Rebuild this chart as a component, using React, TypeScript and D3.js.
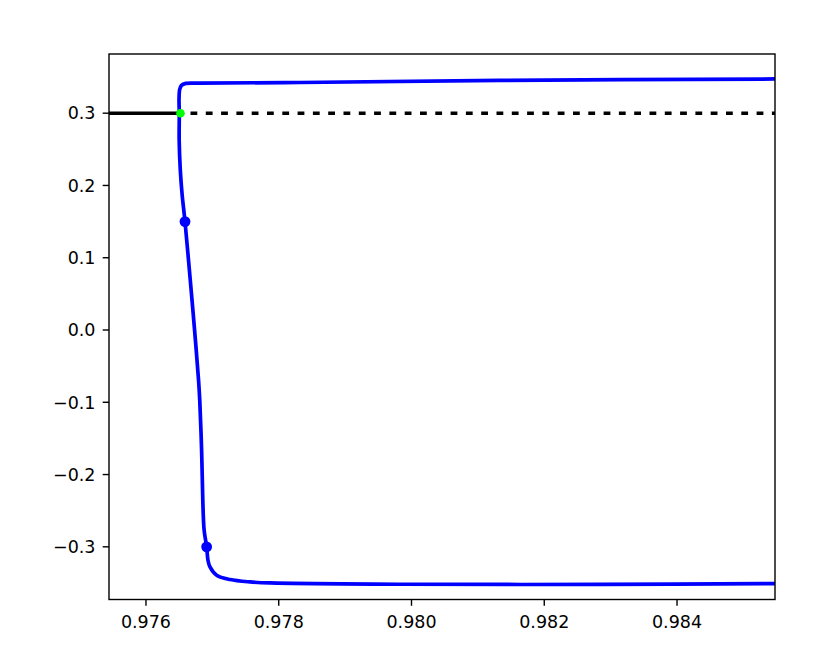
import React from "react";
import * as d3 from "d3";

const curveX = [
  0.98560, 0.98133, 0.97832, 0.97681, 0.97660, 0.976535, 0.976508, 0.976498, 0.976502,
  0.976500, 0.976517, 0.976545, 0.976588, 0.976667, 0.976732, 0.976792, 0.976810,
  0.976838, 0.976856, 0.976876, 0.976914, 0.976934, 0.976964, 0.977065, 0.977266,
  0.977567, 0.977868, 0.979827, 0.98284, 0.98560,
];
const curveY = [
  0.3474, 0.3453, 0.3425, 0.3416, 0.3412, 0.3385, 0.3330, 0.3186, 0.3000,
  0.2632, 0.2216, 0.1870, 0.1500, 0.0693, 0.0000, -0.0693, -0.0970,
  -0.1662, -0.2355, -0.2770, -0.3000, -0.3186, -0.3278, -0.3393, -0.3453,
  -0.3486, -0.3500, -0.3518, -0.3520, -0.3508,
];
const blueDotsX = [0.976588, 0.976914];
const blueDotsY = [0.15, -0.3];
const greenX = 0.97652;
const greenY = 0.3;
const xDomain = [0.975443, 0.985476];
const yDomain = [-0.3729, 0.3819];
const xTicks = [0.976, 0.978, 0.98, 0.982, 0.984];
const yTicks = [-0.3, -0.2, -0.1, 0.0, 0.1, 0.2, 0.3];

export default function App() {
  const W = 830, H = 655;
  const L = 109, R = 775, T = 54, B = 599.5;
  const x = d3.scaleLinear().domain(xDomain).range([L, R]);
  const y = d3.scaleLinear().domain(yDomain).range([B, T]);
  const pts: [number, number][] = curveX.map((v, i) => [v, curveY[i]]);
  const line = d3
    .line<[number, number]>()
    .x((d) => x(d[0]))
    .y((d) => y(d[1]))
    .curve(d3.curveCatmullRom.alpha(0.5));
  const fmtX = d3.format(".3f");
  const fmtY = d3.format(".1f");
  const font = "DejaVu Sans, sans-serif";
  return (
    <div style={{ position: "absolute", left: 0, top: 0 }}>
      <svg width={W} height={H} style={{ display: "block", background: "#fff" }}>
        <defs>
          <clipPath id="plotclip">
            <rect x={L} y={T} width={R - L} height={B - T} />
          </clipPath>
        </defs>
        <g clipPath="url(#plotclip)">
          <line x1={x(xDomain[0])} x2={x(greenX)} y1={y(greenY)} y2={y(greenY)} stroke="#000" strokeWidth={3.6} />
          <line x1={x(greenX)} x2={x(xDomain[1])} y1={y(greenY)} y2={y(greenY)} stroke="#000" strokeWidth={3.6} strokeDasharray="6.8 8.5" strokeDashoffset={-10} />
          <path d={line(pts) || ""} fill="none" stroke="#0000ff" strokeWidth={3.7} strokeLinejoin="round" />
          {blueDotsX.map((v, i) => (
            <circle key={i} cx={x(v)} cy={y(blueDotsY[i])} r={5.4} fill="#0000ff" />
          ))}
          <circle cx={x(greenX)} cy={y(greenY)} r={4.3} fill="#00ff00" />
        </g>
        <rect x={L} y={T} width={R - L} height={B - T} fill="none" stroke="#000" strokeWidth={1.4} />
        {xTicks.map((t) => (
          <g key={"x" + t}>
            <line x1={x(t)} x2={x(t)} y1={B} y2={B + 6.3} stroke="#000" strokeWidth={1.4} />
            <text x={x(t)} y={B + 28} textAnchor="middle" fontFamily={font} fontSize={17.5} fill="#000">
              {fmtX(t)}
            </text>
          </g>
        ))}
        {yTicks.map((t) => (
          <g key={"y" + t}>
            <line x1={L - 6.3} x2={L} y1={y(t)} y2={y(t)} stroke="#000" strokeWidth={1.4} />
            <text x={L - 13.5} y={y(t)} dy="0.36em" textAnchor="end" fontFamily={font} fontSize={17.5} fill="#000">
              {fmtY(t)}
            </text>
          </g>
        ))}
      </svg>
    </div>
  );
}
